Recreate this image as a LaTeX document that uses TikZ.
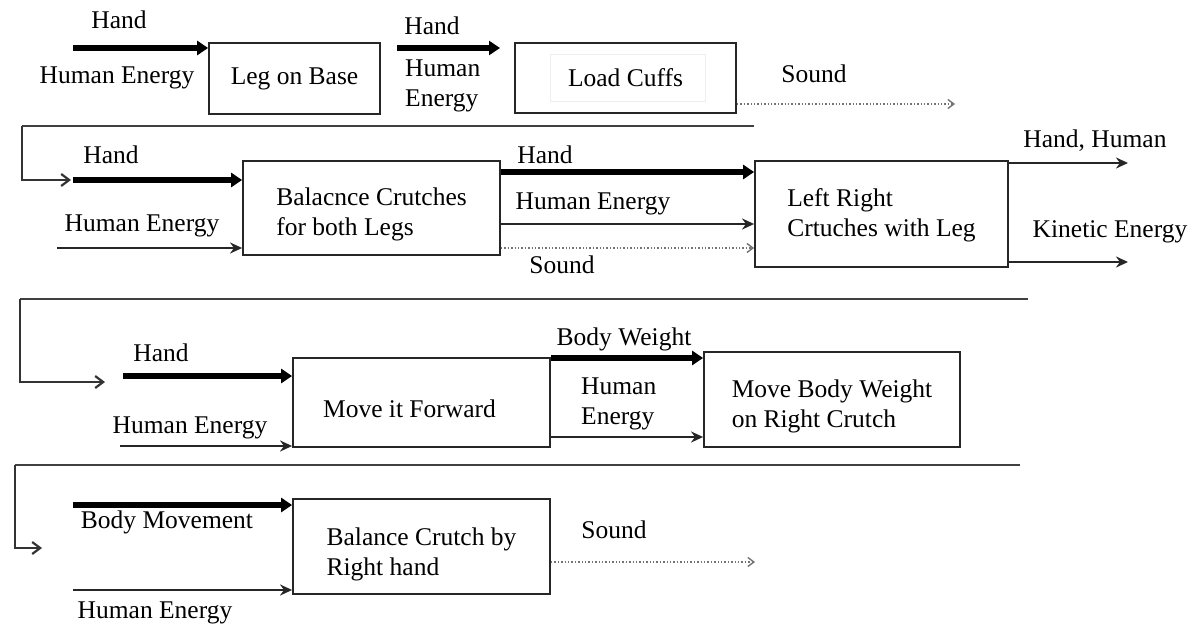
\documentclass[tikz,border=0pt]{standalone}
\usepackage{fontspec}
\setmainfont{Liberation Serif}
\usetikzlibrary{arrows.meta}
\newcommand\lowerby[2]{\raisebox{-#1}[\height][\depth]{#2}}
\begin{document}
\begin{tikzpicture}[x=1pt,y=-1pt,
  font=\fontsize{25.5}{30}\selectfont,
  box/.style={draw=black!85, line width=1.8pt, inner sep=0pt, align=left},
  lbl/.style={inner sep=0pt},
  thickarrow/.style={line width=6pt, -{Triangle[length=11pt,width=14pt]}},
  thinarrow/.style={line width=2.6pt, draw=black!85, -{Stealth[length=12pt,width=11pt]}},
  dotarrow/.style={line width=1.4pt, draw=black!55, dotted, -{Straight Barb[length=6pt,width=9pt,line width=1.4pt]}},
  sepline/.style={line width=2.8pt, draw=black!75},
  retarrow/.style={line width=2.6pt, draw=black!80, -{Straight Barb[length=8pt,width=12pt,line width=2.2pt]}}
]
\useasboundingbox (0,0) rectangle (1202,631);

% ---------------- boxes ----------------
\node[box, minimum width=171pt, minimum height=71pt] (b1) at (294.5,78.5) {Leg on Base};
\node[draw=black!7, line width=0.8pt, minimum width=155pt, minimum height=47pt] (b2in) at (627.5,77.5) {};
\node[box, minimum width=221pt, minimum height=70pt] (b2) at (625.5,78) {Load Cuffs};
\node[box, minimum width=257pt, minimum height=94pt] (b3) at (371.5,208) {\lowerby{7pt}{\begin{tabular}{@{}l@{}}Balacnce Crutches\\for both Legs\end{tabular}}};
\node[box, minimum width=253pt, minimum height=106pt] (b4) at (881.5,214) {\lowerby{2pt}{\begin{tabular}{@{}l@{}}Left Right\\Crtuches with Leg\end{tabular}}};
\node[box, minimum width=257pt, minimum height=89pt] (b5) at (421.5,402.5) {\lowerby{6pt}{\hspace*{-12pt}Move it Forward\hspace*{12pt}}};
\node[box, minimum width=256pt, minimum height=95pt] (b6) at (832,399.5) {\lowerby{7pt}{\begin{tabular}{@{}l@{}}Move Body Weight\\on Right Crutch\end{tabular}}};
\node[box, minimum width=257pt, minimum height=95pt] (b7) at (421.5,546.5) {\lowerby{8pt}{\begin{tabular}{@{}l@{}}Balance Crutch by\\Right hand\end{tabular}}};

% ---------------- coordinates ----------------
\coordinate (r1h) at (73,48);
\coordinate (r1h2) at (397,48);
\coordinate (r1h2e) at (500,48);
\coordinate (r1s) at (955,104);
\coordinate (s1e) at (754,126);
\coordinate (s1w) at (22,126);
\coordinate (s1t) at (71,180);
\coordinate (r2h) at (73,180);
\coordinate (r2e) at (57,248);
\coordinate (o1) at (1128,163);
\coordinate (o2) at (1128,262);
\coordinate (s2e) at (1028,299);
\coordinate (s2w) at (20,299);
\coordinate (s2t) at (105,382);
\coordinate (r3h) at (123,376);
\coordinate (r3e) at (120,446);
\coordinate (s3e) at (1020,465);
\coordinate (s3w) at (15,465);
\coordinate (s3t) at (42,548);
\coordinate (r4h) at (73,505);
\coordinate (r4e) at (73,590);
\coordinate (r4s) at (755,562);

% ---------------- row 1 ----------------
\draw[thickarrow] (r1h) -- (r1h -| b1.west);
\node[lbl] (l1) at (119,20) {Hand};
\node[lbl] (l2) at (117,78) {Human Energy};
\draw[thickarrow] (r1h2) -- (r1h2e);
\node[lbl] (l3) at (432,26) {Hand};
\node[lbl, anchor=west, align=left] (l4) at (405,86) {Human\\Energy};
\draw[dotarrow] (b2.east |- r1s) -- (r1s);
\node[lbl] (l5) at (814,74) {Sound};
\draw[sepline] (s1e) -- (s1w);
\draw[retarrow] (s1w) |- (s1t);

% ---------------- row 2 ----------------
\node[lbl] (l6) at (111,155) {Hand};
\draw[thickarrow] (r2h) -- (r2h -| b3.west);
\node[lbl] (l7) at (142,226) {Human Energy};
\draw[thinarrow] (r2e) -- (r2e -| b3.west);
\node[lbl] (l8) at (545,155) {Hand};
\draw[thickarrow] (b3.east |- 0,172) -- (b4.west |- 0,172);
\node[lbl] (l9) at (593,204) {Human Energy};
\draw[thinarrow] (b3.east |- 0,224) -- (b4.west |- 0,224);
\draw[dotarrow] (b3.east |- 0,248) -- (b4.west |- 0,248);
\node[lbl] (l10) at (562,265) {Sound};
\draw[thinarrow] (b4.east |- o1) -- (o1);
\node[lbl] (l11) at (1095,141) {Hand, Human};
\draw[thinarrow] (b4.east |- o2) -- (o2);
\node[lbl] (l12) at (1110,232) {Kinetic Energy};
\draw[sepline] (s2e) -- (s2w);
\draw[retarrow] (s2w) |- (s2t);

% ---------------- row 3 ----------------
\node[lbl] (l13) at (161,353) {Hand};
\draw[thickarrow] (r3h) -- (r3h -| b5.west);
\node[lbl] (l14) at (190,428) {Human Energy};
\draw[thinarrow] (r3e) -- (r3e -| b5.west);
\draw[thickarrow] (b5.east |- 0,358) -- (b6.west |- 0,358);
\node[lbl] (l15) at (624,339) {Body Weight};
\draw[thinarrow] (b5.east |- 0,437) -- (b6.west |- 0,437);
\node[lbl, anchor=west, align=left] (l16) at (581,404) {Human\\Energy};
\draw[sepline] (s3e) -- (s3w);
\draw[retarrow] (s3w) |- (s3t);

% ---------------- row 4 ----------------
\draw[thickarrow] (r4h) -- (r4h -| b7.west);
\node[lbl] (l17) at (167,522) {Body Movement};
\draw[thinarrow] (r4e) -- (r4e -| b7.west);
\node[lbl] (l18) at (155,613) {Human Energy};
\draw[dotarrow] (b7.east |- r4s) -- (r4s);
\node[lbl] (l19) at (614,530) {Sound};
\end{tikzpicture}
\end{document}
